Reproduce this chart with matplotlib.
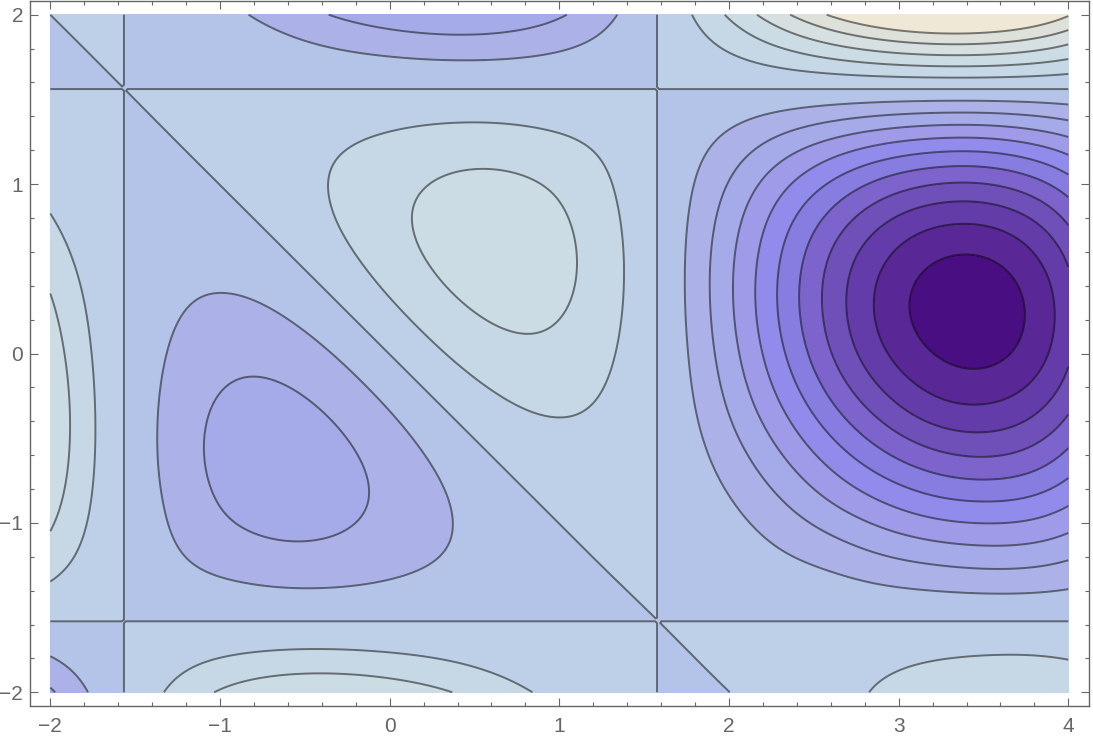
import numpy as np
import matplotlib
matplotlib.use("Agg")
import matplotlib.pyplot as plt
from matplotlib.ticker import MultipleLocator

plt.rcParams["font.family"] = ["Liberation Sans", "DejaVu Sans"]

# grid nodes, x and y
x_nodes = [-2, -1.566, -1.195, -0.895, -0.595, -0.295, 0.005, 0.305, 0.605, 0.905, 1.205, 1.576,
           2.005, 2.305, 2.605, 2.905, 3.205, 3.505, 3.805, 4]
y_nodes = [-2, -1.581, -1.21, -0.91, -0.61, -0.31, -0.01, 0.29, 0.59, 0.89, 1.19, 1.561, 2]

# height at each node, one row per y
z_rows = [
    [-0.69, 0, 0.48, 0.75, 0.89, 0.91, 0.83, 0.68, 0.48, 0.28, 0.12, 0, 0, 0.08, 0.21, 0.36, 0.50, 0.58, 0.59, 0.54],
    [0] * 20,
    [0.48, 0, -0.32, -0.47, -0.54, -0.52, -0.43, -0.31, -0.18, -0.07, 0, 0, -0.12, -0.27, -0.43, -0.60, -0.72, -0.78, -0.75, -0.66],
    [0.75, 0, -0.47, -0.70, -0.77, -0.71, -0.56, -0.36, -0.15, 0, 0.07, 0, -0.28, -0.58, -0.91, -1.21, -1.43, -1.51, -1.43, -1.26],
    [0.89, 0, -0.54, -0.77, -0.82, -0.71, -0.50, -0.24, 0, 0.15, 0.18, 0, -0.48, -0.93, -1.41, -1.84, -2.14, -2.24, -2.09, -1.83],
    [0.91, 0, -0.52, -0.71, -0.71, -0.55, -0.29, 0, 0.24, 0.36, 0.31, 0, -0.68, -1.27, -1.88, -2.41, -2.77, -2.86, -2.64, -2.31],
    [0.83, 0, -0.43, -0.56, -0.50, -0.29, 0, 0.29, 0.50, 0.56, 0.43, 0, -0.83, -1.53, -2.23, -2.82, -3.19, -3.28, -3.01, -2.61],
    [0.68, 0, -0.31, -0.36, -0.24, 0, 0.29, 0.55, 0.71, 0.71, 0.52, 0, -0.91, -1.65, -2.37, -2.97, -3.34, -3.40, -3.10, -2.68],
    [0.48, 0, -0.18, -0.15, 0, 0.24, 0.50, 0.71, 0.82, 0.77, 0.54, 0, -0.89, -1.59, -2.26, -2.80, -3.13, -3.17, -2.87, -2.48],
    [0.28, 0, -0.07, 0, 0.15, 0.36, 0.56, 0.71, 0.77, 0.70, 0.47, 0, -0.75, -1.33, -1.86, -2.29, -2.54, -2.56, -2.31, -1.99],
    [0.12, 0, 0, 0.07, 0.18, 0.31, 0.43, 0.52, 0.54, 0.47, 0.32, 0, -0.48, -0.85, -1.18, -1.44, -1.59, -1.60, -1.43, -1.23],
    [0] * 20,
    [0, 0, -0.12, -0.28, -0.48, -0.68, -0.83, -0.91, -0.89, -0.75, -0.48, 0, 0.69, 1.19, 1.64, 1.98, 2.16, 2.14, 1.91, 1.63],
]

contour_levels = [-3.2, -2.88, -2.56, -2.24, -1.92, -1.6, -1.28, -0.96, -0.64, -0.32,
                  0, 0.32, 0.64, 0.96, 1.28, 1.6]
band_colors = ["#4A0E83", "#5A2896", "#643CAA", "#6F50B9", "#7D64CD", "#877DE1",
               "#918CEB", "#A09BE8", "#A5AAE8", "#ACB2E8", "#B4C3E8", "#BED0E8",
               "#C6D8E6", "#CCDCE4", "#D7E0E1", "#DEE0DA", "#F0E8D7"]


def subdivide(nodes, n=36):
    # keeps the nodes themselves, so rows of zeros stay exactly where they are
    parts = [np.linspace(a, b, n, endpoint=False) for a, b in zip(nodes[:-1], nodes[1:])]
    return np.concatenate(parts + [[nodes[-1]]])


def smooth_columns(values, nodes, fine):
    # cubic spline along axis 0 of values, only to get round contours from the grid
    nodes = np.asarray(nodes, dtype=float)
    h = np.diff(nodes)
    d = np.diff(values, axis=0) / h[:, None]
    size = len(nodes)
    mat = np.zeros((size, size))
    rhs = np.zeros_like(values)
    mat[0, 0] = mat[-1, -1] = 1
    ends = np.gradient(values, nodes, axis=0, edge_order=2)
    rhs[0], rhs[-1] = ends[0], ends[-1]
    for i in range(1, size - 1):
        mat[i, i - 1] = h[i]
        mat[i, i] = 2 * (h[i - 1] + h[i])
        mat[i, i + 1] = h[i - 1]
        rhs[i] = 3 * (h[i] * d[i - 1] + h[i - 1] * d[i])
    slopes = np.linalg.solve(mat, rhs)

    idx = np.clip(np.searchsorted(nodes, fine, side="right") - 1, 0, size - 2)
    t = ((fine - nodes[idx]) / h[idx])[:, None]
    step = h[idx][:, None]
    return ((2 * t**3 - 3 * t**2 + 1) * values[idx]
            + (t**3 - 2 * t**2 + t) * step * slopes[idx]
            + (-2 * t**3 + 3 * t**2) * values[idx + 1]
            + (t**3 - t**2) * step * slopes[idx + 1])


zz = np.array(z_rows, dtype=float)
x_fine = subdivide(x_nodes)
y_fine = subdivide(y_nodes)
z_fine = smooth_columns(zz, y_nodes, y_fine)
z_fine = smooth_columns(z_fine.T, x_nodes, x_fine).T

fig = plt.figure(figsize=(10.93, 7.38), dpi=100)
ax = fig.add_axes([29.5 / 1093, 1 - 706 / 738, (1089 - 29.5) / 1093, 705 / 738])

fill_levels = [-4] + contour_levels + [3]
ax.contourf(x_fine, y_fine, z_fine, levels=fill_levels, colors=band_colors, antialiased=True)
ax.contourf(x_fine, y_fine, z_fine, levels=fill_levels, colors=band_colors, antialiased=False)
ax.contour(x_fine, y_fine, z_fine, levels=contour_levels, colors="black", alpha=0.5,
           linewidths=1.4, linestyles="solid")

ax.set_xlim(-2.1226, 4.122)
ax.set_ylim(-2.081, 2.081)

ax.xaxis.set_major_locator(MultipleLocator(1))
ax.xaxis.set_minor_locator(MultipleLocator(0.2))
ax.yaxis.set_major_locator(MultipleLocator(1))
ax.yaxis.set_minor_locator(MultipleLocator(0.2))

gray = "#666666"
ax.tick_params(which="major", direction="in", length=5.8, width=0.8, color=gray,
               top=True, right=True, labelcolor=gray, labelsize=15)
ax.tick_params(which="minor", direction="in", length=3.2, width=0.8, color=gray,
               top=True, right=True)
ax.tick_params(axis="x", which="major", pad=8)
ax.tick_params(axis="y", which="major", pad=4.5)
for side in ax.spines.values():
    side.set_color(gray)
    side.set_linewidth(1.0)

fig.savefig("out.png", dpi=100)
